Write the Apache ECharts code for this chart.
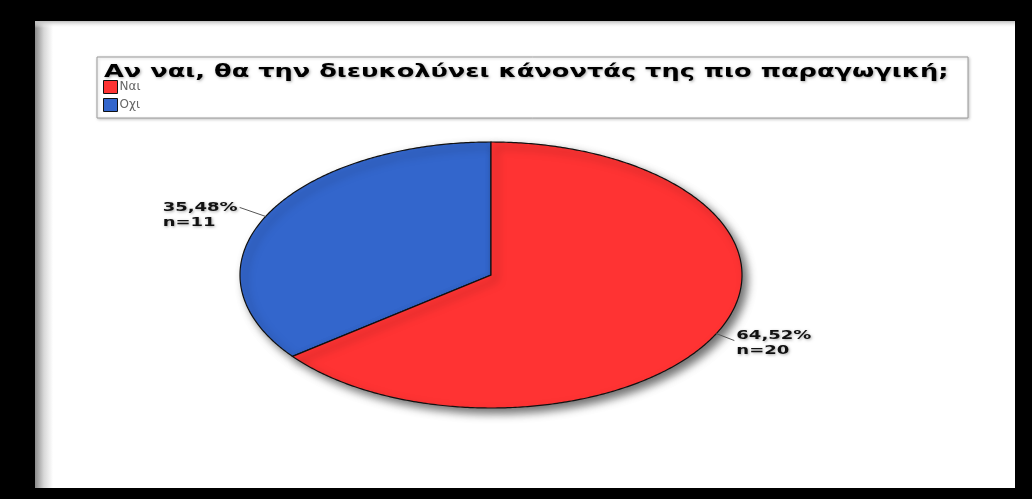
<!DOCTYPE html>
<html>
<head>
<meta charset="utf-8">
<script src="https://cdn.jsdelivr.net/npm/echarts@6/dist/echarts.min.js"></script>
<style>
  html, body { margin: 0; padding: 0; background: #000; }
  #chart { width: 1032px; height: 499px; }
</style>
</head>
<body>
<div id="chart"></div>
<script>
// Answer categories and response counts
const categories = ['Ναι', 'Οχι'];
const counts = [20, 11];
const titleText = 'Αν ναι, θα την διευκολύνει κάνοντάς της πιο παραγωγική;';

const sliceColors = ['#ff3333', '#3366cc'];
const total = counts.reduce((a, b) => a + b, 0);

// cumulative start fraction of each slice, clockwise from 12 o'clock
const starts = [];
counts.reduce((acc, v, i) => { starts[i] = acc; return acc + v; }, 0);

function fmtPct(v) {
  return (v / total * 100).toFixed(2).replace('.', ',') + '%';
}

function makeRenderItem(idx) {
  return function (params, api) {
    const value = api.value(0);
    const a0 = starts[idx] / total * Math.PI * 2;
    const a1 = (starts[idx] + value) / total * Math.PI * 2;
    const pts = [api.coord([0, 0])];
    const steps = Math.max(8, Math.ceil((a1 - a0) / 0.01));
    for (let k = 0; k <= steps; k++) {
      const t = a0 + (a1 - a0) * k / steps;
      pts.push(api.coord([Math.sin(t), Math.cos(t)]));
    }
    const mid = (a0 + a1) / 2;
    const edge = api.coord([Math.sin(mid), Math.cos(mid)]);
    const right = Math.sin(mid) >= 0;
    const end = right ? [edge[0] + 18, edge[1] + 7] : [edge[0] - 26, edge[1] - 9];
    const labelFont = 'bold 12px "DejaVu Sans"';
    return {
      type: 'group',
      children: [
        {
          type: 'polygon',
          shape: { points: pts },
          style: {
            fill: api.visual('color'),
            stroke: '#111',
            lineWidth: 1.2,
            shadowBlur: 9,
            shadowOffsetX: 5,
            shadowOffsetY: 5,
            shadowColor: 'rgba(0,0,0,0.55)'
          }
        },
        {
          type: 'line',
          shape: { x1: edge[0], y1: edge[1], x2: end[0], y2: end[1] },
          style: { stroke: '#555', lineWidth: 1 }
        },
        {
          type: 'text',
          x: end[0] + (right ? 2 : -2),
          y: end[1] + (right ? 3 : 8),
          scaleX: 1.5,
          style: {
            text: '{a|' + fmtPct(value) + '}\n{a|n=' + value + '}',
            rich: {
              a: { font: labelFont, fill: '#111', align: 'left', lineHeight: 15,
                   textShadowColor: 'rgba(0,0,0,0.35)', textShadowBlur: 3, textShadowOffsetX: 1, textShadowOffsetY: 1 }
            },
            align: right ? 'left' : 'right',
            verticalAlign: 'middle'
          }
        }
      ]
    };
  };
}

const chart = echarts.init(document.getElementById('chart'), null, { renderer: 'canvas' });

const option = {
  backgroundColor: '#000',
  animation: false,
  graphic: [
    // white panel
    { type: 'rect', shape: { x: 35, y: 21, width: 980, height: 467 }, style: { fill: '#fff' }, z: -10 },
    // soft grey edge on the left of the panel
    { type: 'rect', shape: { x: 35, y: 21, width: 18, height: 467 },
      style: { fill: new echarts.graphic.LinearGradient(0, 0, 1, 0, [
        { offset: 0, color: '#8a8a8a' }, { offset: 0.5, color: '#d8d8d8' }, { offset: 1, color: '#ffffff' }]) }, z: -9 },
    // soft grey edge along the top
    { type: 'rect', shape: { x: 35, y: 21, width: 980, height: 7 },
      style: { fill: new echarts.graphic.LinearGradient(0, 0, 0, 1, [
        { offset: 0, color: '#bdbdbd' }, { offset: 1, color: 'rgba(255,255,255,0)' }]) }, z: -9 },
    // title / legend frame
    { type: 'rect', shape: { x: 97, y: 57, width: 871, height: 61 },
      style: { fill: '#fff', stroke: '#9a9a9a', lineWidth: 1,
               shadowColor: 'rgba(0,0,0,0.2)', shadowBlur: 3, shadowOffsetX: 1, shadowOffsetY: 1 }, z: -5 },
    // title text
    { type: 'text', x: 104, y: 72, scaleX: 1.425, z: 5,
      style: { text: titleText, font: 'bold 18px "DejaVu Sans"', fill: '#000', verticalAlign: 'middle',
               textShadowColor: 'rgba(0,0,0,0.35)', textShadowBlur: 3, textShadowOffsetX: 1, textShadowOffsetY: 1 } }
  ],
  legend: {
    orient: 'vertical',
    left: 103,
    top: 80,
    itemWidth: 14,
    itemHeight: 13,
    itemGap: 4,
    icon: 'rect',
    padding: 0,
    data: categories,
    itemStyle: { borderColor: '#111', borderWidth: 1 },
    textStyle: { fontFamily: 'DejaVu Sans', fontSize: 12, color: '#666', padding: [0, 0, 0, -3] }
  },
  grid: { left: 240, top: 142, width: 502, height: 266 },
  xAxis: { type: 'value', min: -1, max: 1, show: false },
  yAxis: { type: 'value', min: -1, max: 1, show: false },
  series: categories.map((name, i) => ({
    type: 'custom',
    name: name,
    // the first slice sits above the second so its edge covers the other's shadow
    z: i === 0 ? 3 : 2,
    itemStyle: { color: sliceColors[i] },
    renderItem: makeRenderItem(i),
    data: [[counts[i]]],
    encode: { x: -1, y: -1 },
    silent: true
  }))
};

chart.setOption(option);
</script>
</body>
</html>
